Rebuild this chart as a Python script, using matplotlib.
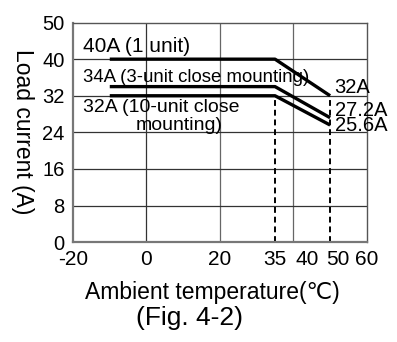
import matplotlib
matplotlib.use("Agg")
import matplotlib.pyplot as plt
import numpy as np
from matplotlib.transforms import ScaledTranslation

plt.rcParams['font.family'] = ['Liberation Sans', 'DejaVu Sans']

# Data
temps = [-10, 35, 50]
one_unit = [40, 40, 32]
three_unit = [34, 34, 27.2]
ten_unit = [32, 32, 25.6]
x_ticks = [-20, 0, 20, 35, 40, 50, 60]
x_grid = [-20, 0, 20, 40, 60]
y_ticks = [0, 8, 16, 24, 32, 40, 50]
dash_x = [35, 50]
dash_top = 32


# y axis: 0..40 linear, 40..50 compressed so every tick is evenly spaced
def fwd(y):
    y = np.asarray(y, dtype=float)
    return np.where(y <= 40, y, 40 + (y - 40) * 0.8)


def inv(t):
    t = np.asarray(t, dtype=float)
    return np.where(t <= 40, t, 40 + (t - 40) / 0.8)


fig = plt.figure(figsize=(3.97, 3.42), dpi=100)
ax = fig.add_axes([0.184, 0.292, 0.740, 0.642])
ax.set_yscale('function', functions=(fwd, inv))
ax.set_xlim(-20, 60)
ax.set_ylim(0, 50)

# grid
for gx in x_grid[1:-1]:
    ax.axvline(gx, color='#333333' if gx == 0 else '#666666', lw=0.9, zorder=1)
for gy in y_ticks[1:-1]:
    ax.axhline(gy, color='#333333', lw=0.9, zorder=1)

# dashed marker lines
for dx in dash_x:
    ax.plot([dx, dx], [0, dash_top], color='black', lw=1.4, ls=(0, (3, 2)), zorder=2)

# derating curves
for ys in (one_unit, three_unit, ten_unit):
    ax.plot(temps, ys, color='black', lw=2.4, solid_capstyle='butt', zorder=3)

ax.set_xticks(x_ticks)
ax.set_xticklabels([str(v) for v in x_ticks])
ax.set_yticks(y_ticks)
ax.set_yticklabels([str(v) for v in y_ticks])
ax.minorticks_off()
ax.tick_params(length=0, labelsize=14.5, pad=6)
ax.tick_params(axis='x', labelsize=15, pad=6)

for lab in ax.get_xticklabels():
    if lab.get_text() == '40':
        lab.set_transform(lab.get_transform() + ScaledTranslation(0.14, 0, fig.dpi_scale_trans))
    if lab.get_text() == '50':
        lab.set_transform(lab.get_transform() + ScaledTranslation(0.08, 0, fig.dpi_scale_trans))

for side in ('left', 'bottom'):
    ax.spines[side].set_color('#777777')
    ax.spines[side].set_linewidth(1.6)
for side in ('top', 'right'):
    ax.spines[side].set_color('#555555')
    ax.spines[side].set_linewidth(1.0)

# curve labels
ax.text(0.034, 0.889, "40A (1 unit)", transform=ax.transAxes, fontsize=15, va='center', ha='left')
ax.text(0.033, 0.751, "34A (3-unit close mounting)", transform=ax.transAxes, fontsize=13.4,
        va='center', ha='left')
ax.text(0.033, 0.611, "32A (10-unit close", transform=ax.transAxes, fontsize=14,
        va='center', ha='left')
ax.text(0.212, 0.529, "mounting)", transform=ax.transAxes, fontsize=14, va='center', ha='left')
ax.text(0.89, 0.705, "32A", transform=ax.transAxes, fontsize=14.5, va='center', ha='left')
ax.text(0.89, 0.598, "27.2A", transform=ax.transAxes, fontsize=14.5, va='center', ha='left')
ax.text(0.89, 0.529, "25.6A", transform=ax.transAxes, fontsize=14.5, va='center', ha='left')

# axis titles
fig.text(22 / 397, 1 - 132 / 342, "Load current (A)", rotation=-90, fontsize=16.5,
         ha='center', va='center')
fig.text(212 / 397, 1 - 292 / 342, "Ambient temperature(\u2103)", fontsize=16.5,
         ha='center', va='center')
fig.text(190 / 397, 1 - 318 / 342, "(Fig. 4-2)", fontsize=19, ha='center', va='center')

fig.savefig("out.png", dpi=100, facecolor='white')
